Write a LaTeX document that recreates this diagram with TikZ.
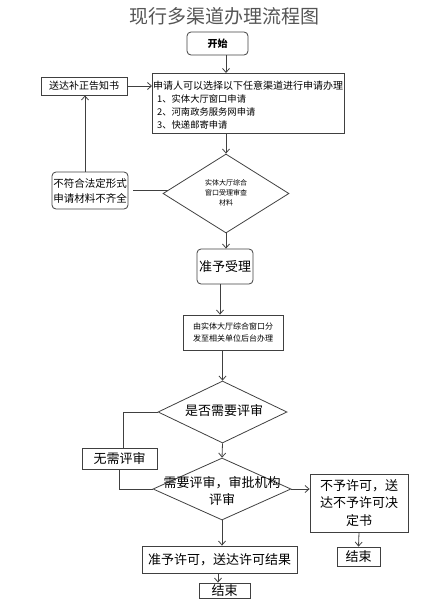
\documentclass[tikz,border=0pt]{standalone}
\usepackage{fontspec}
\setmainfont{Noto Sans CJK SC}
\usetikzlibrary{shapes.geometric,arrows.meta,calc}
\definecolor{ln}{HTML}{404040}
\definecolor{ttl}{HTML}{555555}
\tikzset{
  box/.style={draw=ln,line width=0.8pt,rectangle,inner sep=0pt,align=center,text=black},
  rbox/.style={box,rounded corners=4pt},
  dia/.style={draw=ln,line width=0.8pt,diamond,inner sep=0pt,align=center,text=black},
  conn/.style={draw=ln,line width=0.8pt},
  arr/.style={conn,-{Straight Barb[length=4pt,width=7pt]}},
}
\begin{document}
\begin{tikzpicture}[x=1pt,y=-1pt]
\useasboundingbox (0,0) rectangle (424,605);
\node[text=ttl,font=\fontsize{19}{22}\selectfont] (title) at (224,16) {现行多渠道办理流程图};
\node[rbox,minimum width=61pt,minimum height=23pt,font=\fontsize{10}{12}\selectfont\bfseries] (start) at (217.5,43.5) {开始};
\node[box,minimum width=192pt,minimum height=60pt,align=left,anchor=north west] (apply) at (152,73) {};
\node[anchor=west,inner sep=0pt,font=\fontsize{10}{12}\selectfont] (t1) at (153,86) {申请人可以选择以下任意渠道进行申请办理};
\node[anchor=west,inner sep=0pt,font=\fontsize{9.3}{12}\selectfont] (t2) at (157,99) {1、实体大厅窗口申请};
\node[anchor=west,inner sep=0pt,font=\fontsize{9.3}{12}\selectfont] (t3) at (157,112) {2、河南政务服务网申请};
\node[anchor=west,inner sep=0pt,font=\fontsize{9.3}{12}\selectfont] (t4) at (157,125) {3、快递邮寄申请};
\node[box,minimum width=86pt,minimum height=18pt,font=\fontsize{10}{12}\selectfont] (notice) at (84,86) {送达补正告知书};
\node[rbox,minimum width=76pt,minimum height=37pt,font=\fontsize{10.5}{15}\selectfont] (nonconf) at (90,190.5) {不符合法定形式\\申请材料不齐全};
\node[dia,minimum width=126pt,minimum height=79pt,font=\fontsize{7}{10}\selectfont] (d1) at (226,193.5) {};
\node[align=center,inner sep=0pt,font=\fontsize{7}{10}\selectfont] (d1t) at (226,193) {实体大厅综合\\窗口受理审查\\材料};
\node[rbox,minimum width=56pt,minimum height=35pt,font=\fontsize{13}{15}\selectfont] (accept) at (225,266.5) {准予受理};
\node[box,minimum width=100pt,minimum height=35pt,font=\fontsize{8}{12.5}\selectfont] (dispatch) at (233,332.5) {由实体大厅综合窗口分\\发至相关单位后台办理};
\node[dia,minimum width=129pt,minimum height=62pt] (d2) at (222.5,412) {};
\node[inner sep=0pt,font=\fontsize{13}{15}\selectfont] (d2t) at (224,411) {是否需要评审};
\node[box,minimum width=75pt,minimum height=21pt,font=\fontsize{13}{15}\selectfont] (noreview) at (119.5,458.5) {无需评审};
\node[dia,minimum width=138pt,minimum height=62pt] (d3) at (222,489) {};
\node[align=center,inner sep=0pt,font=\fontsize{13}{17}\selectfont] (d3t) at (222,491) {需要评审，审批机构\\评审};
\node[box,minimum width=98pt,minimum height=58pt,font=\fontsize{13}{17.5}\selectfont] (deny) at (359,503) {不予许可，送\\达不予许可决\\定书};
\node[box,minimum width=43pt,minimum height=19pt,font=\fontsize{13}{15}\selectfont] (end2) at (358.5,556.5) {结束};
\node[box,minimum width=155pt,minimum height=27pt,font=\fontsize{13}{15}\selectfont] (grant) at (219.5,559.5) {准予许可，送达许可结果};
\node[box,minimum width=51pt,minimum height=15pt,font=\fontsize{13}{15}\selectfont] (end1) at (224.5,590.5) {结束};
% connectors
\draw[arr] (start.south -| d1.north) -- (apply.north -| d1.north);
\draw[arr] (notice.east) -- (notice.east -| apply.west);
\draw[arr] ([xshift=-5pt]nonconf.north) -- ([xshift=-5pt]nonconf.north |- notice.south);
\draw[conn] ([xshift=5pt]nonconf.east) -- ([xshift=5pt]nonconf.east -| d1.west);
\draw[arr] (apply.south -| d1.north) -- (d1.north);
\draw[arr] (d1.south) -- (d1.south |- accept.north);
\draw[arr] ([xshift=-5pt]accept.south) -- ([xshift=-5pt]accept.south |- dispatch.north);
\draw[arr] (d2.north |- dispatch.south) -- (d2.north);
\draw[conn] (d2.west) -| ([xshift=3.5pt]noreview.north);
\draw[conn] (noreview.south) |- (d3.west);
\draw[arr] (d2.south) -- (d3.north);
\draw[arr] (d3.east) -- (d3.east -| deny.west);
\draw[arr] (deny.south) -- (end2.north);
\draw[arr] (d3.south) -- (d3.south |- grant.north);
\draw[arr] ([xshift=-1.5pt]grant.south) -- ([xshift=-1.5pt]grant.south |- end1.north);
\end{tikzpicture}
\end{document}
